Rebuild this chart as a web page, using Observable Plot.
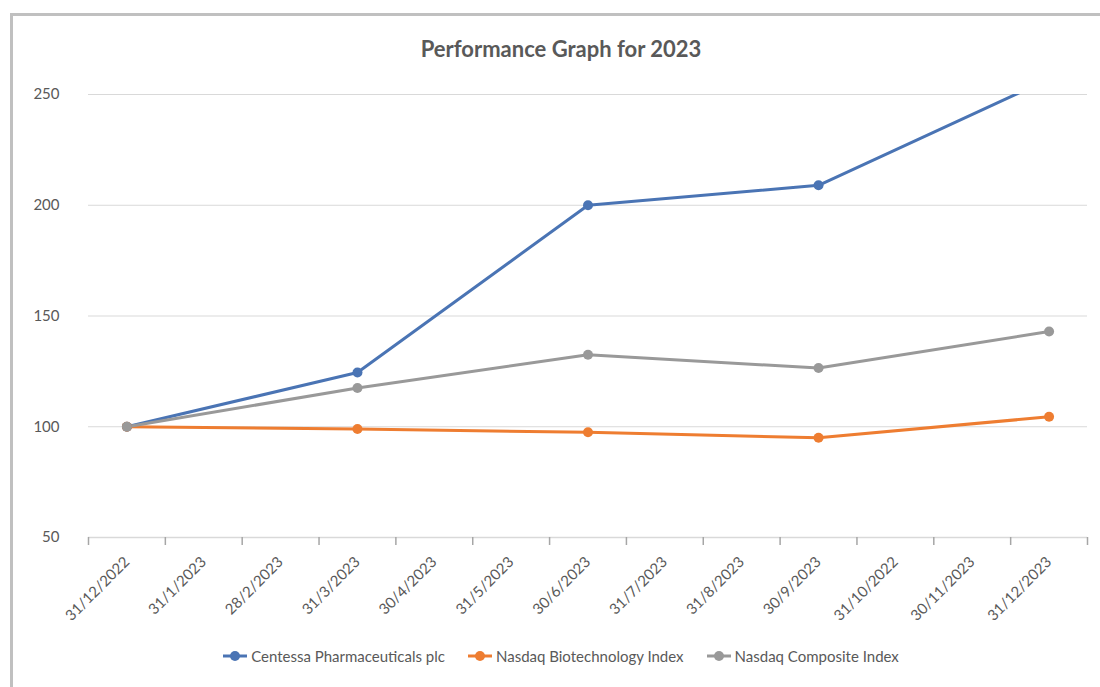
<!DOCTYPE html>
<html>
<head>
<meta charset="utf-8">
<script src="https://cdn.jsdelivr.net/npm/d3@7"></script>
<script src="https://cdn.jsdelivr.net/npm/@observablehq/plot@0.6"></script>
<style>
  body { margin: 0; background: #fff; }
  #wrap { position: relative; width: 1100px; height: 687px; overflow: hidden; font-family: Lato, "Open Sans", sans-serif; }
  #border { position: absolute; left: 10px; top: 13px; width: 1200px; height: 800px; border: 3px solid #c0c0c0; box-sizing: border-box; }
  #title { position: absolute; left: 0; width: 1122px; top: 35px; text-align: center; font-size: 22px; font-weight: 700; color: #595959; }
  #chart { position: absolute; left: 0; top: 60px; }
  #legend { position: absolute; left: 0; width: 1122px; top: 647px; display: flex; justify-content: center; gap: 23px; font-size: 15px; color: #595959; }
  .item { display: flex; align-items: center; gap: 4px; }
</style>
</head>
<body>
<div id="wrap">
  <div id="border"></div>
  <div id="title">Performance Graph for 2023</div>
  <div id="chart"></div>
  <div id="legend"></div>
</div>
<script>
const categories = ["31/12/2022","31/1/2023","28/2/2023","31/3/2023","30/4/2023","31/5/2023","30/6/2023","31/7/2023","31/8/2023","30/9/2023","31/10/2022","30/11/2023","31/12/2023"];
const dataDates = ["31/12/2022","31/3/2023","30/6/2023","30/9/2023","31/12/2023"];
const seriesNames = ["Centessa Pharmaceuticals plc","Nasdaq Biotechnology Index","Nasdaq Composite Index"];
const centessa = [100, 124.5, 200, 209, 257];
const biotech = [100, 99, 97.5, 95, 104.5];
const composite = [100, 117.5, 132.5, 126.5, 143];
const yTicks = [50, 100, 150, 200, 250];
const colors = ["#4a74b4", "#ee7d31", "#999999"];

const allValues = [centessa, biotech, composite];
const rows = [];
seriesNames.forEach((s, k) => {
  dataDates.forEach((d, i) => {
    rows.push({series: s, idx: categories.indexOf(d), value: allValues[k][i]});
  });
});
const boundaries = d3.range(categories.length + 1).map(i => i - 0.5);

const chart = Plot.plot({
  width: 1100,
  height: 600,
  marginLeft: 88,
  marginRight: 13,
  marginTop: 34,
  marginBottom: 123,
  style: {fontFamily: "Lato, 'Open Sans', sans-serif", background: "transparent"},
  x: {type: "linear", domain: [-0.5, categories.length - 0.5]},
  y: {domain: [50, 250]},
  color: {domain: seriesNames, range: colors},
  marks: [
    Plot.gridY(yTicks.filter(t => t > 50), {stroke: "#d9d9d9", strokeOpacity: 1, strokeWidth: 1}),
    Plot.ruleY([50], {stroke: "#d9d9d9", strokeWidth: 1.5}),
    Plot.axisY({ticks: yTicks, tickSize: 0, tickPadding: 29, fontSize: 15, fill: "#595959", label: null}),
    Plot.axisX({ticks: boundaries, tickSize: 8, tickFormat: () => "", stroke: "#a6a6a6", strokeWidth: 1.5, label: null}),
    Plot.axisX({ticks: d3.range(categories.length), tickSize: 0, tickPadding: 22, tickRotate: -45, tickFormat: i => categories[i], fontSize: 15, fill: "#595959", label: null}),
    Plot.line(rows, {x: "idx", y: "value", z: "series", stroke: "series", strokeWidth: 3, clip: true}),
    Plot.dot(rows, {x: "idx", y: "value", fill: "series", r: 5, clip: true})
  ]
});
document.getElementById("chart").appendChild(chart);

const legend = document.getElementById("legend");
seriesNames.forEach((s, k) => {
  const item = document.createElement("div");
  item.className = "item";
  item.innerHTML = `<svg width="24" height="12"><line x1="0" y1="6" x2="24" y2="6" stroke="${colors[k]}" stroke-width="3"/><circle cx="12" cy="6" r="5" fill="${colors[k]}"/></svg><span>${s}</span>`;
  legend.appendChild(item);
});
</script>
</body>
</html>
